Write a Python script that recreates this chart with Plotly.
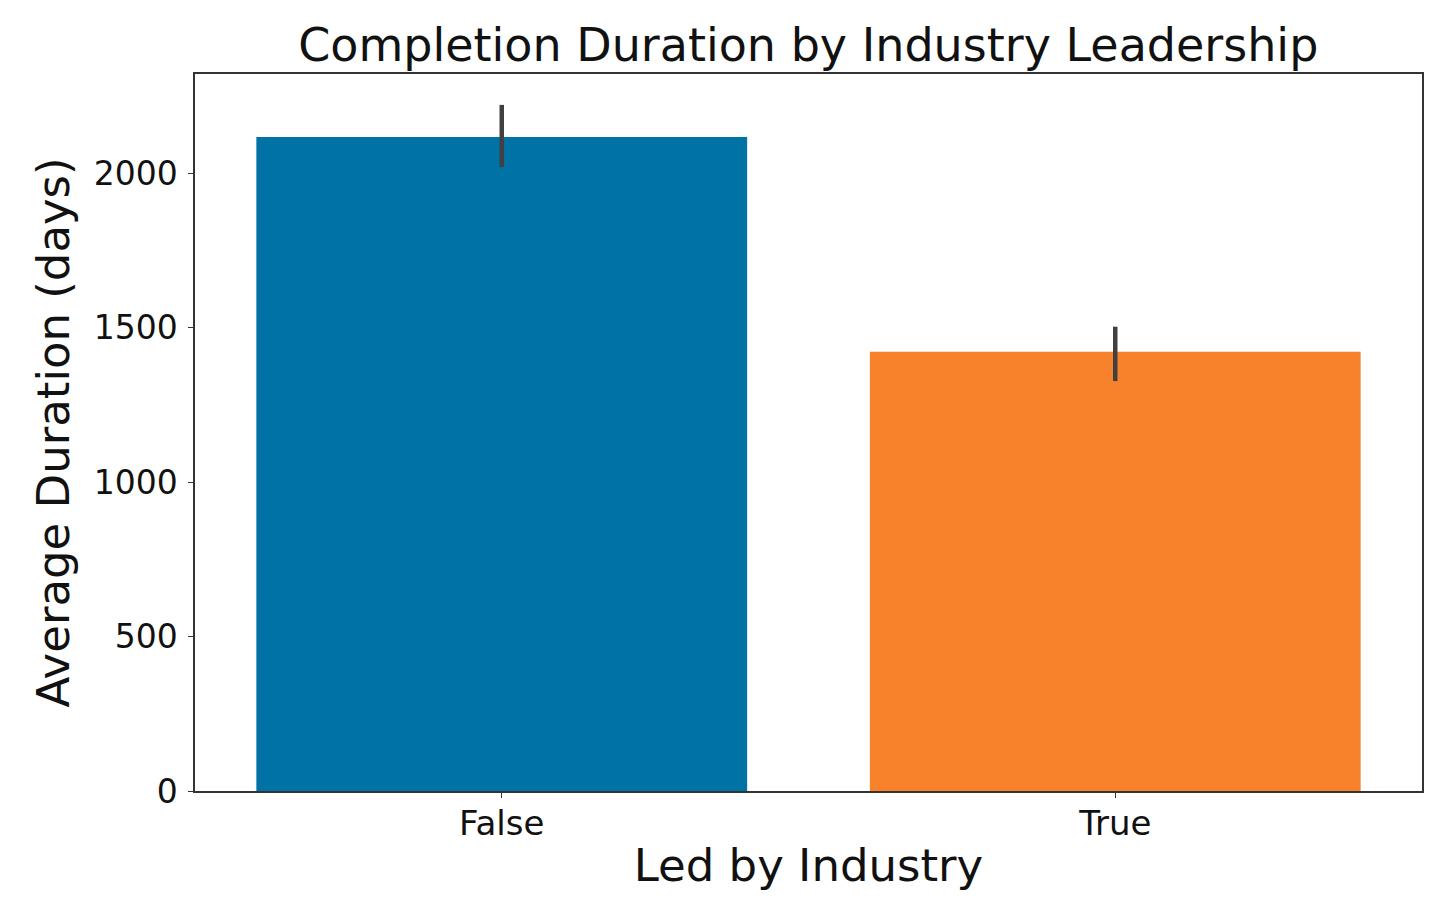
import plotly.graph_objs as go

CATEGORIES = ["False", "True"]
AVG_DURATION = [2117, 1422]
ERR_UPPER = [2221, 1503]
ERR_LOWER = [2020, 1327]
BAR_COLORS = ["#0072A5", "#F8812B"]

FONT = "DejaVu Sans"

err_plus = [u - v for u, v in zip(ERR_UPPER, AVG_DURATION)]
err_minus = [v - l for v, l in zip(AVG_DURATION, ERR_LOWER)]

fig = go.Figure()
fig.add_trace(
    go.Bar(x=CATEGORIES, y=AVG_DURATION, marker_color=BAR_COLORS, marker_line_width=0,
           width=0.8,
           error_y=dict(type="data", symmetric=False, array=err_plus, arrayminus=err_minus,
                        color="#404040", thickness=4.5, width=0))
)

# page body adds an 8px offset, margins account for it
fig.update_layout(
    width=1455, height=916,
    showlegend=False,
    template="simple_white",
    plot_bgcolor="white",
    paper_bgcolor="white",
    margin=dict(l=187, r=41, t=66, b=133),
    font=dict(family=FONT, color="#111111"),
    title=dict(text="Completion Duration by Industry Leadership", x=0.55, xanchor="center",
               y=0.96, yanchor="middle", font=dict(size=46, family=FONT, color="#111111")),
)

fig.update_xaxes(
    range=[-0.5, 1.5], showline=True, linecolor="#333333", linewidth=1.5, mirror=True,
    ticks="outside", ticklen=5, tickcolor="#333333", tickfont=dict(size=34, family=FONT),
    ticklabelstandoff=-4,
    title=dict(text="Led by Industry", font=dict(size=45, family=FONT), standoff=8),
)
fig.update_yaxes(
    range=[0, 2321], showline=True, linecolor="#333333", linewidth=1.5, mirror=True,
    tickvals=[0, 500, 1000, 1500, 2000], ticks="outside", ticklen=5, tickcolor="#333333",
    tickfont=dict(size=33, family=FONT), showgrid=False, ticklabelstandoff=4,
    title=dict(text="Average Duration (days)", font=dict(size=45, family=FONT), standoff=10),
)

fig.write_html("out.html")
